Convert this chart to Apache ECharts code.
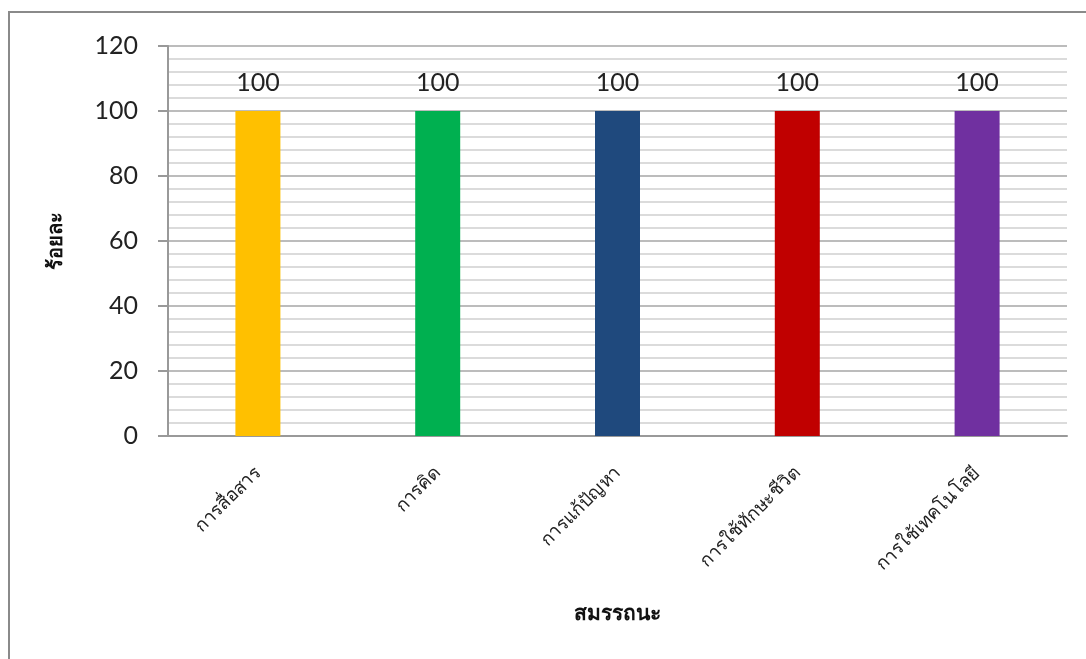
<!DOCTYPE html>
<html><head><meta charset="utf-8">
<script src="https://cdn.jsdelivr.net/npm/echarts@6/dist/echarts.min.js"></script>
<style>html,body{margin:0;padding:0;background:#fff}#c{width:1086px;height:659px}</style>
</head><body><div id="c"></div>
<script>
const categories = ['การสื่อสาร', 'การคิด', 'การแก้ปัญหา', 'การใช้ทักษะชีวิต', 'การใช้เทคโนโลยี'];
const values = [100, 100, 100, 100, 100];
const barColors = ['#FFC000', '#00B050', '#1F497D', '#C00000', '#7030A0'];
const yTicks = [0, 20, 40, 60, 80, 100, 120];
const yName = 'ร้อยละ';
const xName = 'สมรรถนะ';

const chart = echarts.init(document.getElementById('c'));
chart.setOption({
  animation: false,
  backgroundColor: '#fff',
  graphic: [{
    type: 'rect', shape: {x: 9, y: 12, width: 1100, height: 700},
    style: {fill: 'none', stroke: '#8a8a8a', lineWidth: 2}, silent: true
  }],
  grid: {left: 168, top: 46, right: 19, bottom: 223},
  xAxis: {
    type: 'category', data: categories,
    name: xName, nameLocation: 'middle', nameGap: 168,
    nameTextStyle: {fontFamily: 'Noto Sans, sans-serif', fontSize: 21, fontWeight: 'bold', color: '#111'},
    axisLine: {lineStyle: {color: '#999', width: 2}},
    axisTick: {show: false},
    axisLabel: {rotate: 45, margin: 34, fontFamily: 'Noto Sans, sans-serif', fontSize: 18.5, color: '#222'}
  },
  yAxis: {
    type: 'value', min: yTicks[0], max: yTicks[yTicks.length - 1], interval: 20,
    name: yName, nameLocation: 'middle', nameGap: 102, nameRotate: 90,
    nameTextStyle: {fontFamily: 'Noto Sans, sans-serif', fontSize: 20, fontWeight: 'bold', color: '#111'},
    axisLine: {show: true, lineStyle: {color: '#999', width: 2}},
    axisTick: {show: true, length: 10, lineStyle: {color: '#999', width: 2}},
    axisLabel: {margin: 30, fontFamily: 'Lato, sans-serif', fontSize: 25, color: '#222'},
    splitLine: {show: true, lineStyle: {color: '#a6a6a6', width: 1.5}},
    minorTick: {show: false, splitNumber: 5},
    minorSplitLine: {show: true, lineStyle: {color: '#cfcfcf', width: 1.5}}
  },
  series: [{
    type: 'bar', barWidth: 45,
    data: values.map((v, i) => ({value: v, itemStyle: {color: barColors[i]}})),
    label: {show: true, position: 'top', distance: 16, fontFamily: 'Lato, sans-serif', fontSize: 25, color: '#222'}
  }]
});
</script></body></html>
